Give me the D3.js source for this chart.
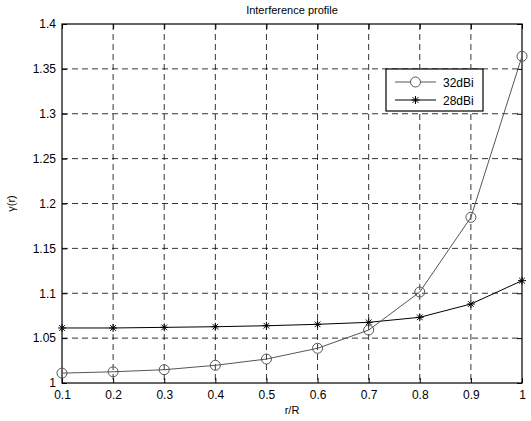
<!DOCTYPE html>
<html>
<head>
<meta charset="utf-8">
<script src="https://cdn.jsdelivr.net/npm/d3@7"></script>
<style>
  body { margin: 0; background: #fff; }
  svg { display: block; font-family: "Liberation Sans", Arial, sans-serif; }
  .tick text { font-size: 12px; fill: #000; }
  .grid line { stroke: #000; stroke-dasharray: 6,4; stroke-width: 0.8; }
</style>
</head>
<body>
<div id="chart"></div>
<script>
// r/R samples and interference ratio per antenna gain
const ratios = [0.1, 0.2, 0.3, 0.4, 0.5, 0.6, 0.7, 0.8, 0.9, 1.0];
const gain32 = [1.011, 1.0125, 1.0148, 1.0197, 1.0267, 1.0387, 1.059, 1.1014, 1.1846, 1.364];
const gain28 = [1.0613, 1.0613, 1.062, 1.0627, 1.0638, 1.0654, 1.0676, 1.0732, 1.088, 1.114];
const seriesNames = ["32dBi", "28dBi"];
const xTicks = [0.1, 0.2, 0.3, 0.4, 0.5, 0.6, 0.7, 0.8, 0.9, 1];
const yTicks = [1, 1.05, 1.1, 1.15, 1.2, 1.25, 1.3, 1.35, 1.4];

const W = 531, H = 421;
const L = 62, R = 522, T = 24, B = 383;

const x = d3.scaleLinear([0.1, 1], [L, R]);
const y = d3.scaleLinear([1, 1.4], [B, T]);

const svg = d3.select("#chart").append("svg").attr("width", W).attr("height", H);

// dashed grid
const grid = svg.append("g").attr("class", "grid");
grid.selectAll("line.gx").data(xTicks.slice(1, -1)).join("line")
  .attr("x1", d => x(d)).attr("x2", d => x(d)).attr("y1", T).attr("y2", B);
grid.selectAll("line.gy").data(yTicks.slice(1, -1)).join("line")
  .attr("y1", d => y(d)).attr("y2", d => y(d)).attr("x1", L).attr("x2", R);

// axes with inward ticks (MATLAB style)
const fmt = d => String(+d.toFixed(2));
svg.append("g").attr("transform", `translate(0,${B})`)
  .call(d3.axisBottom(x).tickValues(xTicks).tickSizeInner(-5).tickSizeOuter(0).tickPadding(7).tickFormat(fmt))
  .call(g => g.select(".domain").remove());
svg.append("g").attr("transform", `translate(${L},0)`)
  .call(d3.axisLeft(y).tickValues(yTicks).tickSizeInner(-5).tickSizeOuter(0).tickPadding(6).tickFormat(fmt))
  .call(g => g.select(".domain").remove());
svg.append("g").attr("transform", `translate(0,${T})`)
  .call(d3.axisTop(x).tickValues(xTicks).tickSizeInner(-5).tickSizeOuter(0).tickFormat(""))
  .call(g => g.select(".domain").remove());
svg.append("g").attr("transform", `translate(${R},0)`)
  .call(d3.axisRight(y).tickValues(yTicks).tickSizeInner(-5).tickSizeOuter(0).tickFormat(""))
  .call(g => g.select(".domain").remove());
svg.selectAll(".tick line").attr("stroke", "#000");

svg.append("rect").attr("x", L).attr("y", T).attr("width", R - L).attr("height", B - T)
  .attr("fill", "none").attr("stroke", "#000").attr("stroke-width", 1.2);

const line = d3.line().x((d, i) => x(ratios[i])).y(d => y(d));

function star(g, cx, cy, s, color) {
  [0, 45, 90, 135].forEach(a => {
    const r = a * Math.PI / 180;
    g.append("line")
      .attr("x1", cx - s * Math.cos(r)).attr("y1", cy - s * Math.sin(r))
      .attr("x2", cx + s * Math.cos(r)).attr("y2", cy + s * Math.sin(r))
      .attr("stroke", color).attr("stroke-width", 1);
  });
}

// 28dBi: black, asterisks
svg.append("path").datum(gain28).attr("d", line)
  .attr("fill", "none").attr("stroke", "#000").attr("stroke-width", 1);
const stars = svg.append("g");
gain28.forEach((v, i) => star(stars, x(ratios[i]), y(v), 4, "#000"));

// 32dBi: gray, open circles
svg.append("path").datum(gain32).attr("d", line)
  .attr("fill", "none").attr("stroke", "#555").attr("stroke-width", 1);
svg.append("g").selectAll("circle").data(gain32).join("circle")
  .attr("cx", (d, i) => x(ratios[i])).attr("cy", d => y(d)).attr("r", 5)
  .attr("fill", "none").attr("stroke", "#555").attr("stroke-width", 1);

// legend
const lg = svg.append("g");
lg.append("rect").attr("x", 386).attr("y", 69).attr("width", 97).attr("height", 42)
  .attr("fill", "#fff").attr("stroke", "#000").attr("stroke-width", 1.2);
seriesNames.forEach((name, i) => {
  const ly = 82 + i * 18;
  const col = i === 0 ? "#555" : "#000";
  lg.append("line").attr("x1", 395).attr("x2", 436).attr("y1", ly).attr("y2", ly)
    .attr("stroke", col).attr("stroke-width", 1);
  if (i === 0) lg.append("circle").attr("cx", 415.5).attr("cy", ly).attr("r", 5)
    .attr("fill", "#fff").attr("stroke", col);
  else star(lg, 415.5, ly, 4, col);
  lg.append("text").attr("x", 443).attr("y", ly + 4.5).attr("font-size", 12).text(name);
});

// titles
svg.append("text").attr("x", (L + R) / 2).attr("y", 14).attr("text-anchor", "middle")
  .attr("font-size", 11).text("Interference profile");
svg.append("text").attr("x", (L + R) / 2).attr("y", 414).attr("text-anchor", "middle")
  .attr("font-size", 11).text("r/R");
svg.append("text").attr("transform", `translate(15,${(T + B) / 2}) rotate(-90)`)
  .attr("text-anchor", "middle").attr("font-size", 11).text("γ(r)");
</script>
</body>
</html>
